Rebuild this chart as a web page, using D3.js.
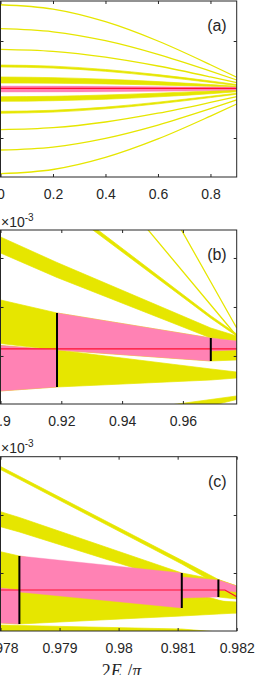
<!DOCTYPE html>
<html>
<head>
<meta charset="utf-8">
<script src="https://cdn.jsdelivr.net/npm/d3@7"></script>
<style>
body { margin: 0; background: #fff; }
svg { display: block; }
.tick text { font-family: "Liberation Sans", Arial, sans-serif; font-size: 14px; fill: #262626; }
</style>
</head>
<body>
<div id="chart"></div>
<script>
// Panel (a): energy bands vs 2E/pi, values in tick units
var aX = [0, 0.2, 0.4, 0.6, 0.8, 0.9];
var aLines = [
    [1.748, 1.658, 1.398, 1.000, 0.511, 0.252],
    [1.254, 1.190, 1.006, 0.724, 0.379, 0.196],
    [0.829, 0.788, 0.668, 0.485, 0.260, 0.140],
    [-0.829, -0.788, -0.670, -0.489, -0.266, -0.148],
    [-1.247, -1.186, -1.006, -0.732, -0.396, -0.216],
    [-1.736, -1.649, -1.400, -1.019, -0.548, -0.299]
];
var aBandHi = [
    [0.505, 0.482, 0.413, 0.307, 0.176, 0.103],
    [0.258, 0.245, 0.212, 0.163, 0.101, 0.068],
    [-0.148, -0.140, -0.113, -0.076, -0.029, -0.004],
    [-0.450, -0.428, -0.363, -0.261, -0.139, -0.077]
];
var aBandLo = [
    [0.465, 0.442, 0.375, 0.271, 0.146, 0.083],
    [0.134, 0.130, 0.115, 0.093, 0.066, 0.052],
    [-0.243, -0.231, -0.200, -0.151, -0.087, -0.047],
    [-0.490, -0.466, -0.399, -0.295, -0.167, -0.097]
];
var aPinkX = [[0, 0.2, 0.4, 0.6, 0.8, 0.9]];
var aPinkHi = [[0.072, 0.070, 0.066, 0.058, 0.050, 0.045]];
var aPinkLo = [[-0.052, -0.050, -0.045, -0.035, -0.020, -0.010]];
var aRedX = [0, 0.9], aRedY = [0.025, 0.025];
var aXTicks = [0, 0.2, 0.4, 0.6, 0.8];
var aXLabels = ["0", "0.2", "0.4", "0.6", "0.8"];
var aYTicks = [-1, 1];

// Panel (b), units of 1e-3
var bX = [0.9, 0.91859, 0.96918, 0.9777];
var bLines = [
    [9.13, 7.07, 1.51, 0.571],
    [6.19, 4.80, 1.04, 0.408]
];
var bBandHi = [
    [4.09, 3.208, 0.821, 0.449],
    [2.429, 1.908, 0.571, 0.408],
    [1.143, 0.878, 0.367, 0.163],
    [0.214, 0.122, -0.265, -0.327],
    [-1.469, -1.312, -0.888, -0.816]
];
var bBandLo = [
    [3.99, 3.118, 0.771, 0.409],
    [2.102, 1.602, 0.367, 0.306],
    [0.255, 0.122, -0.102, -0.082],
    [-0.714, -0.633, -0.490, -0.449],
    [-2.051, -1.771, -1.016, -0.888]
];
var bPinkX = [[0.9, 0.91859], [0.91859, 0.96918], [0.96918, 0.9777]];
var bPinkHi = [[0.214, 0.122], [0.878, 0.367], [0.367, 0.306]];
var bPinkLo = [[-0.714, -0.633], [0.122, -0.102], [0.102, 0.122]];
var bRedX = [0.9, 0.9777], bRedY = [0.143, 0.143];
var bBlackX = [0.91859, 0.96918], bBlackHi = [0.878, 0.367], bBlackLo = [-0.633, -0.102];
var bXTicks = [0.9, 0.92, 0.94, 0.96];
var bXLabels = ["0.9", "0.92", "0.94", "0.96"];
var bYTicks = [0, 1, 2];

// Panel (c), units of 1e-3
var cX = [0.978, 0.97832, 0.98107, 0.98169, 0.982];
var cBandHi = [
    [1.836, 1.667, 0.219, -0.112, -0.224],
    [1.057, 0.957, 0.000, -0.121, -0.224],
    [0.367, 0.293, -0.293, -0.466, -0.552],
    [-0.276, -0.328, -0.457, -0.483, -0.500],
    [-0.897, -0.905, -0.966, -1.017, -1.034]
];
var cBandLo = [
    [1.784, 1.616, 0.155, -0.207, -0.328],
    [0.798, 0.707, -0.172, -0.414, -0.448],
    [-0.264, -0.293, -0.603, -0.655, -0.690],
    [-0.862, -0.879, -0.741, -0.707, -0.690],
    [-1.3, -1.3, -1.3, -1.3, -1.3]
];
var cPinkX = [[0.978, 0.97832], [0.97832, 0.98107], [0.98107, 0.98169], [0.98169, 0.982]];
var cPinkHi = [[-0.259, -0.293], [0.293, 0.000], [-0.069, -0.121], [-0.121, -0.224]];
var cPinkLo = [[-0.862, -0.879], [-0.328, -0.603], [-0.431, -0.414], [-0.293, -0.328]];
var cRedX = [0.978, 0.9818, 0.982], cRedY = [-0.293, -0.293, -0.409];
var cBlackX = [0.97832, 0.98107, 0.98169], cBlackHi = [0.293, 0.0, -0.112], cBlackLo = [-0.879, -0.603, -0.414];
var cXTicks = [0.978, 0.979, 0.98, 0.981, 0.982];
var cXLabels = ["0.978", "0.979", "0.98", "0.981", "0.982"];
var cYTicks = [0, 1];

var YELLOW = "#e6e600", PINK = "#ff82b4", RED = "#ff1030", INK = "#262626";
var plotLeft = 0.5, plotW = 236.2;

var svg = d3.select("#chart").append("svg")
    .attr("width", 255)
    .attr("height", 675);

var panels = [
    { top: 1, bottom: 177, xDomain: [0, 0.9], yDomain: [-1.804, 1.825], curve: d3.curveMonotoneX,
      xs: aX, lines: aLines, hi: aBandHi, lo: aBandLo, pinkX: aPinkX, pinkHi: aPinkHi, pinkLo: aPinkLo,
      redX: aRedX, redY: aRedY, blackX: [], blackHi: [], blackLo: [],
      xTicks: aXTicks, xLabels: aXLabels, yTicks: aYTicks, label: "(a)", exponent: false },
    { top: 230, bottom: 404, xDomain: [0.9, 0.9777], yDomain: [-0.98, 2.571], curve: d3.curveLinear,
      xs: bX, lines: bLines, hi: bBandHi, lo: bBandLo, pinkX: bPinkX, pinkHi: bPinkHi, pinkLo: bPinkLo,
      redX: bRedX, redY: bRedY, blackX: bBlackX, blackHi: bBlackHi, blackLo: bBlackLo,
      xTicks: bXTicks, xLabels: bXLabels, yTicks: bYTicks, label: "(b)", exponent: true },
    { top: 456.7, bottom: 631, xDomain: [0.978, 0.982], yDomain: [-1.0, 2.005], curve: d3.curveLinear,
      xs: cX, lines: [], hi: cBandHi, lo: cBandLo, pinkX: cPinkX, pinkHi: cPinkHi, pinkLo: cPinkLo,
      redX: cRedX, redY: cRedY, blackX: cBlackX, blackHi: cBlackHi, blackLo: cBlackLo,
      xTicks: cXTicks, xLabels: cXLabels, yTicks: cYTicks, label: "(c)", exponent: true }
];

panels.forEach(drawPanel);

function drawPanel(p, idx) {
    var h = p.bottom - p.top;
    var g = svg.append("g").attr("transform", "translate(" + plotLeft + "," + p.top + ")");

    var x = d3.scaleLinear().domain(p.xDomain).range([0, plotW]);
    var y = d3.scaleLinear().domain(p.yDomain).range([h, 0]);

    g.append("clipPath").attr("id", "clip" + idx)
        .append("rect").attr("width", plotW).attr("height", h);
    var layer = g.append("g").attr("clip-path", "url(#clip" + idx + ")");

    var area = d3.area()
        .x(function(d) { return x(d[0]); })
        .y0(function(d) { return y(d[2]); })
        .y1(function(d) { return y(d[1]); })
        .curve(p.curve);

    var line = d3.line()
        .x(function(d) { return x(d[0]); })
        .y(function(d) { return y(d[1]); })
        .curve(p.curve);

    function rows(xs, hi, lo) {
        return xs.map(function(v, i) { return [v, hi[i], lo[i]]; });
    }

    // yellow bands
    p.hi.forEach(function(hi, k) {
        layer.append("path")
            .datum(rows(p.xs, hi, p.lo[k]))
            .attr("d", area)
            .attr("fill", YELLOW)
            .attr("stroke", YELLOW)
            .attr("stroke-width", 0.7);
    });

    // thin levels
    p.lines.forEach(function(ys) {
        layer.append("path")
            .datum(p.xs.map(function(v, i) { return [v, ys[i]]; }))
            .attr("d", line)
            .attr("fill", "none")
            .attr("stroke", YELLOW)
            .attr("stroke-width", 1.3);
    });

    // pink pieces: the band holding the level
    p.pinkX.forEach(function(xs, k) {
        layer.append("path")
            .datum(rows(xs, p.pinkHi[k], p.pinkLo[k]))
            .attr("d", area)
            .attr("fill", PINK)
            .attr("stroke", PINK)
            .attr("stroke-width", 0.4);
    });

    layer.append("path")
        .datum(p.redX.map(function(v, i) { return [v, p.redY[i]]; }))
        .attr("d", d3.line().x(function(d) { return x(d[0]); }).y(function(d) { return y(d[1]); }))
        .attr("fill", "none")
        .attr("stroke", RED)
        .attr("stroke-width", 1.2);

    layer.selectAll("line.mark")
        .data(p.blackX)
        .enter().append("line")
        .attr("class", "mark")
        .attr("x1", function(d) { return x(d); })
        .attr("x2", function(d) { return x(d); })
        .attr("y1", function(d, i) { return y(p.blackHi[i]); })
        .attr("y2", function(d, i) { return y(p.blackLo[i]); })
        .attr("stroke", "#000")
        .attr("stroke-width", 2);

    // axes, ticks inside like matlab
    var xb = g.append("g").attr("transform", "translate(0," + h + ")")
        .call(d3.axisBottom(x).tickValues(p.xTicks).tickSizeInner(-3).tickSizeOuter(0)
            .tickPadding(12.5).tickFormat(function(d, i) { return p.xLabels[i]; }));
    var xt = g.append("g")
        .call(d3.axisTop(x).tickValues(p.xTicks).tickSizeInner(-3).tickSizeOuter(0).tickFormat(""));
    var yl = g.append("g")
        .call(d3.axisLeft(y).tickValues(p.yTicks).tickSizeInner(-3).tickSizeOuter(0).tickFormat(""));
    var yr = g.append("g").attr("transform", "translate(" + plotW + ",0)")
        .call(d3.axisRight(y).tickValues(p.yTicks).tickSizeInner(-3).tickSizeOuter(0).tickFormat(""));
    [xb, xt, yl, yr].forEach(function(a) {
        a.select(".domain").remove();
        a.selectAll(".tick line").attr("stroke", INK);
    });

    g.append("rect")
        .attr("width", plotW)
        .attr("height", h)
        .attr("fill", "none")
        .attr("stroke", INK)
        .attr("stroke-width", 1);

    g.append("text")
        .attr("x", plotW - 10)
        .attr("y", 30)
        .attr("text-anchor", "end")
        .attr("font-family", "Liberation Sans, Arial, sans-serif")
        .attr("font-size", 16)
        .attr("fill", INK)
        .text(p.label);

    if (p.exponent) {
        var t = g.append("text")
            .attr("x", 0.5)
            .attr("y", -3.5)
            .attr("font-family", "Liberation Sans, Arial, sans-serif")
            .attr("font-size", 14)
            .attr("fill", INK);
        t.append("tspan").text("\u00d710");
        t.append("tspan").attr("font-size", 10).attr("dy", -6).text("-3");
    }
}

// x label, mostly below the picture edge
var xl = svg.append("text")
    .attr("x", 121.5)
    .attr("y", 677)
    .attr("text-anchor", "middle")
    .attr("font-family", "Liberation Serif, serif")
    .attr("font-size", 18)
    .attr("fill", INK);
xl.append("tspan").text("2");
xl.append("tspan").attr("font-style", "italic").text("E");
xl.append("tspan").attr("font-style", "italic").attr("font-size", 12).attr("dy", 7).text("J");
xl.append("tspan").attr("dy", -7).text("/");
xl.append("tspan").attr("font-style", "italic").text("\u03c0");
</script>
</body>
</html>
